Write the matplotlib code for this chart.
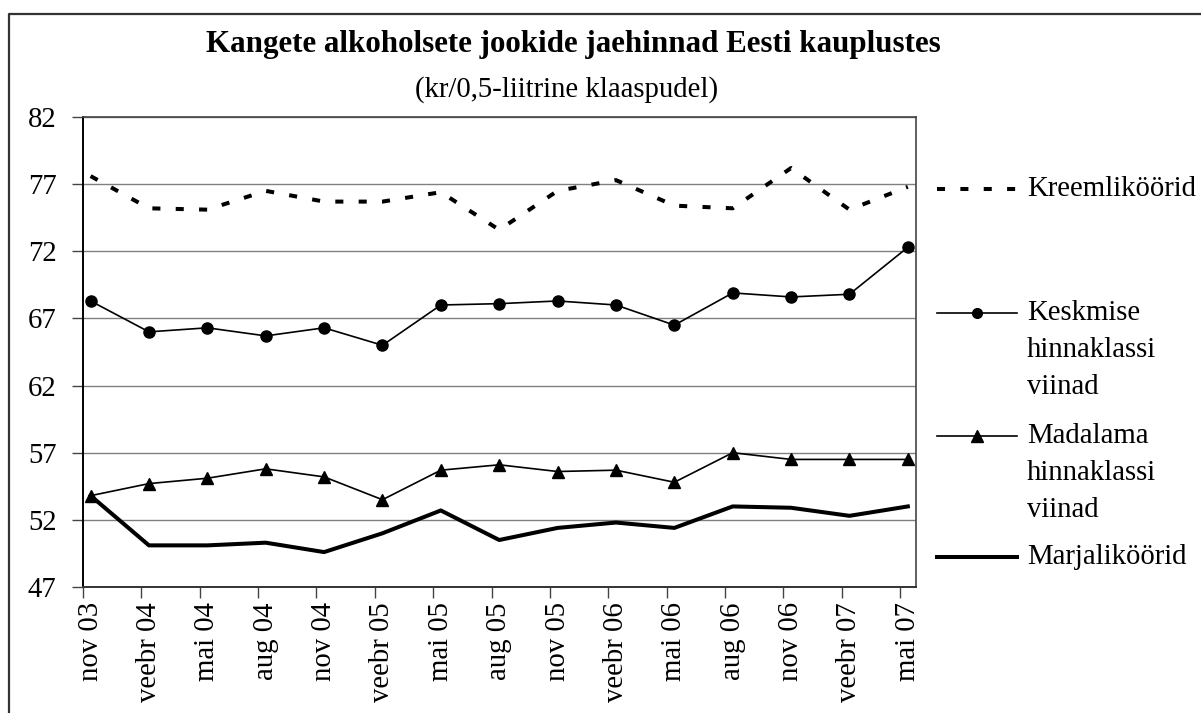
import matplotlib
matplotlib.use('Agg')
import matplotlib.pyplot as plt
from matplotlib.lines import Line2D

plt.rcParams['font.family'] = ['Liberation Serif', 'DejaVu Serif']

# andmed
kuud = ['nov 03', 'veebr 04', 'mai 04', 'aug 04', 'nov 04', 'veebr 05', 'mai 05',
        'aug 05', 'nov 05', 'veebr 06', 'mai 06', 'aug 06', 'nov 06', 'veebr 07', 'mai 07']
kreem = [77.6, 75.2, 75.1, 76.5, 75.7, 75.7, 76.4, 73.6, 76.5, 77.3, 75.4, 75.2, 78.2, 75.1, 76.8]
keskmise = [68.3, 66.0, 66.3, 65.7, 66.3, 65.0, 68.0, 68.1, 68.3, 68.0, 66.5, 68.9, 68.6, 68.8, 72.3]
madalama = [53.8, 54.7, 55.1, 55.8, 55.2, 53.5, 55.7, 56.1, 55.6, 55.7, 54.8, 57.0, 56.5, 56.5, 56.5]
marja = [53.8, 50.1, 50.1, 50.3, 49.6, 51.0, 52.7, 50.5, 51.4, 51.8, 51.4, 53.0, 52.9, 52.3, 53.0]
y_ticks = [47, 52, 57, 62, 67, 72, 77, 82]

fig = plt.figure(figsize=(12.01, 7.13), dpi=100)
ax = fig.add_axes([83 / 1201, 1 - 587 / 713, (916 - 83) / 1201, 470 / 713])

x = list(range(len(kuud)))
ax.plot(x, kreem, color='black', lw=2.9, dashes=(2.0, 3.8), dash_capstyle='butt', zorder=3)
ax.plot(x, keskmise, color='black', lw=1.2, marker='o', ms=8, zorder=3)
ax.plot(x, madalama, color='black', lw=1.2, marker='^', ms=9, zorder=3)
ax.plot(x, marja, color='black', lw=2.9, zorder=3)

ax.set_ylim(47, 82)
ax.set_xlim(-0.12, 14.14)
ax.set_yticks(y_ticks)
ax.set_yticklabels([str(v) for v in y_ticks], fontsize=20.7)
ax.yaxis.grid(True, color='#808080', lw=1.0)
ax.set_axisbelow(True)

# tickid kategooriate vahel, sildid punktide all
ax.set_xticks([i - 0.13 for i in x])
ax.set_xticklabels([])
ax.set_xticks(x, minor=True)
ax.set_xticklabels(kuud, minor=True, rotation=90, fontsize=20.7, va='top', ha='center')
ax.tick_params(axis='x', which='major', length=8, width=1.0, color='#444444', direction='out')
ax.tick_params(axis='x', which='minor', length=0, pad=11)
ax.tick_params(axis='y', length=8, width=1.0, color='#444444', pad=11)

for s in ['top', 'right']:
    ax.spines[s].set_color('#444444')
    ax.spines[s].set_linewidth(1.2)
ax.spines['left'].set_color('black')
ax.spines['left'].set_linewidth(1.4)
ax.spines['bottom'].set_color('#333333')
ax.spines['bottom'].set_linewidth(1.4)

# pealkiri
fig.text(573 / 1201, 1 - 52 / 713, 'Kangete alkoholsete jookide jaehinnad Eesti kauplustes',
         fontsize=22.3, fontweight='bold', ha='center', va='baseline')
fig.text(567 / 1201, 1 - 97 / 713, '(kr/0,5-liitrine klaaspudel)',
         fontsize=20.7, ha='center', va='baseline')

# legend käsitsi
def px(xp, yp):
    return xp / 1201, 1 - yp / 713

lx0, lx1, tx = 937, 1017, 1027
kirjed = [
    (189, dict(lw=2.9, dashes=(2.0, 3.8), dash_capstyle='butt'), ['Kreemliköörid']),
    (313, dict(lw=1.2, marker='o', ms=7, markevery=[1]), ['Keskmise', 'hinnaklassi', 'viinad']),
    (436, dict(lw=1.2, marker='^', ms=8, markevery=[1]), ['Madalama', 'hinnaklassi', 'viinad']),
    (557, dict(lw=2.9), ['Marjaliköörid']),
]
for yp, stiil, read in kirjed:
    xa, ya = px(lx0, yp)
    xb, _ = px(lx1, yp)
    xm, _ = px((lx0 + lx1) / 2, yp)
    fig.add_artist(Line2D([xa, xm, xb], [ya, ya, ya], color='black',
                          transform=fig.transFigure, **stiil))
    for k, r in enumerate(read):
        xt, yt = px(tx, yp + k * 37)
        fig.text(xt, yt, r, fontsize=20.7, ha='left', va='center')

# välimine raam
fig.add_artist(Line2D([9 / 1201, 9 / 1201, 1], [0, 1 - 14 / 713, 1 - 14 / 713],
                      color='#333333', lw=1.6, transform=fig.transFigure))

fig.savefig('out.png', dpi=100)
